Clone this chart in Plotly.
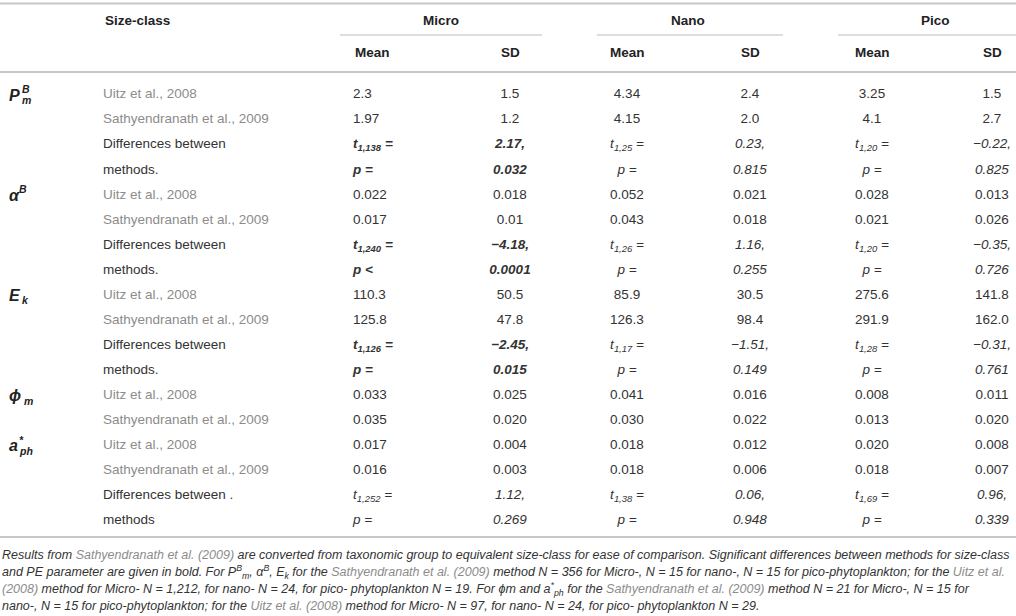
import plotly.graph_objects as go

# table values, row by row (18 body rows)
size_class = ["Uitz et al., 2008", "Sathyendranath et al., 2009", "Differences between", "methods.",
              "Uitz et al., 2008", "Sathyendranath et al., 2009", "Differences between", "methods.",
              "Uitz et al., 2008", "Sathyendranath et al., 2009", "Differences between", "methods.",
              "Uitz et al., 2008", "Sathyendranath et al., 2009",
              "Uitz et al., 2008", "Sathyendranath et al., 2009", "Differences between .", "methods"]
row_type = ["ref", "ref", "t", "p"] * 3 + ["ref", "ref", "ref", "ref", "t", "p"]
significant = [False, False, True, True, False, False, True, True, False, False, True, True,
               False, False, False, False, False, False]

micro_mean = ["2.3", "1.97", "t<sub>1,138</sub> =", "p =", "0.022", "0.017", "t<sub>1,240</sub> =", "p <",
              "110.3", "125.8", "t<sub>1,126</sub> =", "p =", "0.033", "0.035", "0.017", "0.016",
              "t<sub>1,252</sub> =", "p ="]
micro_sd = ["1.5", "1.2", "2.17,", "0.032", "0.018", "0.01", "\u22124.18,", "0.0001", "50.5", "47.8",
            "\u22122.45,", "0.015", "0.025", "0.020", "0.004", "0.003", "1.12,", "0.269"]
nano_mean = ["4.34", "4.15", "t<sub>1,25</sub> =", "p =", "0.052", "0.043", "t<sub>1,26</sub> =", "p =",
             "85.9", "126.3", "t<sub>1,17</sub> =", "p =", "0.041", "0.030", "0.018", "0.018",
             "t<sub>1,38</sub> =", "p ="]
nano_sd = ["2.4", "2.0", "0.23,", "0.815", "0.021", "0.018", "1.16,", "0.255", "30.5", "98.4",
           "\u22121.51,", "0.149", "0.016", "0.022", "0.012", "0.006", "0.06,", "0.948"]
pico_mean = ["3.25", "4.1", "t<sub>1,20</sub> =", "p =", "0.028", "0.021", "t<sub>1,20</sub> =", "p =",
             "275.6", "291.9", "t<sub>1,28</sub> =", "p =", "0.008", "0.013", "0.020", "0.018",
             "t<sub>1,69</sub> =", "p ="]
pico_sd = ["1.5", "2.7", "\u22120.22,", "0.825", "0.013", "0.026", "\u22120.35,", "0.726", "141.8", "162.0",
           "\u22120.31,", "0.761", "0.011", "0.020", "0.008", "0.007", "0.96,", "0.339"]

# parameter labels: (row, main, superscript, subscript)
params = [(0, "P", "B", "m"), (4, "\u03b1", "B", ""), (8, "E", "", "k"),
          (12, "\u03d5", "", "m"), (14, "a", "*", "ph")]

groups = ["Micro", "Nano", "Pico"]

caption = [
    'Results from <span style="color:#8c8c8c">Sathyendranath et al. (2009)</span> are converted from taxonomic group to equivalent size-class for ease of comparison. Significant differences between methods for size-class',
    'and PE parameter are given in bold. For P<sup>B</sup><sub>m</sub>, \u03b1<sup>B</sup>, E<sub>k</sub> for the <span style="color:#8c8c8c">Sathyendranath et al. (2009)</span> method N = 356 for Micro-, N = 15 for nano-, N = 15 for pico-phytoplankton; for the <span style="color:#8c8c8c">Uitz et al.</span>',
    '<span style="color:#8c8c8c">(2008)</span> method for Micro- N = 1,212, for nano- N = 24, for pico- phytoplankton N = 19. For \u03d5m and a<sup>*</sup><sub>ph</sub> for the <span style="color:#8c8c8c">Sathyendranath et al. (2009)</span> method N = 21 for Micro-, N = 15 for',
    'nano-, N = 15 for pico-phytoplankton; for the <span style="color:#8c8c8c">Uitz et al. (2008)</span> method for Micro- N = 97, for nano- N = 24, for pico- phytoplankton N = 29.',
]

W, H = 1016, 616
ROW0, ROWH = 95, 25.05
FONT = "Liberation Sans, Arial, Helvetica, sans-serif"
DARK = "#333333"
GREY = "#8c8c8c"
RULE = "#c8c8c8"


def py(p):
    # pixel row -> y axis units
    return (p - ROW0) / ROWH


def style_value(v, i, col_is_micro):
    if row_type[i] == "ref":
        return v
    if col_is_micro and significant[i]:
        return "<b><i>" + v + "</i></b>"
    return "<i>" + v + "</i>"


rows = list(range(len(size_class)))
fig = go.Figure()

# size-class column
fig.add_trace(go.Scatter(
    x=[103] * len(rows), y=rows, mode="text", text=size_class, textposition="middle right",
    textfont=dict(family=FONT, size=13.5, color=[GREY if t == "ref" else DARK for t in row_type]),
    hoverinfo="skip", cliponaxis=False))

columns = [(micro_mean, 353, "middle right", True), (micro_sd, 510, "middle center", True),
           (nano_mean, 627, "middle center", False), (nano_sd, 750, "middle center", False),
           (pico_mean, 872, "middle center", False), (pico_sd, 992, "middle center", False)]
for vals, x, pos, micro in columns:
    fig.add_trace(go.Scatter(
        x=[x] * len(vals), y=rows, mode="text",
        text=[style_value(v, i, micro) for i, v in enumerate(vals)], textposition=pos,
        textfont=dict(family=FONT, size=13.5, color=DARK),
        hoverinfo="skip", cliponaxis=False))

ann = []
# headers
hdr = dict(font=dict(family=FONT, size=13.5, color="#222222"), showarrow=False, xref="x", yref="y")
ann.append(dict(x=103, y=py(20), text="<b>Size-class</b>", xanchor="left", **hdr))
for g, x in zip(groups, [441, 688, 935]):
    ann.append(dict(x=x, y=py(20), text="<b>" + g + "</b>", xanchor="center", **hdr))
ann.append(dict(x=353, y=py(52), text="<b>Mean</b>", xanchor="left", **hdr))
for x, t in [(510, "SD"), (627, "Mean"), (750, "SD"), (872, "Mean"), (992, "SD")]:
    ann.append(dict(x=x, y=py(52), text="<b>" + t + "</b>", xanchor="center", **hdr))

# parameter labels with stacked super/subscripts
lab = dict(showarrow=False, xref="x", yref="y", xanchor="left")
for r, main, sup, sub in params:
    ann.append(dict(x=7, y=r, text="<b><i>" + main + "</i></b>",
                    font=dict(family=FONT, size=16, color="#222222"), **lab))
    xo = {"P": 20, "E": 20, "\u03d5": 22}.get(main, 17)
    if sup:
        ann.append(dict(x=xo, y=r, yshift=6, text="<b><i>" + sup + "</i></b>",
                        font=dict(family=FONT, size=10.5, color="#222222"), **lab))
    if sub:
        ann.append(dict(x=xo, y=r, yshift=-5, text="<b><i>" + sub + "</i></b>",
                        font=dict(family=FONT, size=10.5, color="#222222"), **lab))

# caption
cap = dict(showarrow=False, xref="x", yref="y", xanchor="left")
for k, line in enumerate(caption):
    ann.append(dict(x=0, y=py(555 + 17 * k), text="<i>" + line + "</i>",
                    font=dict(family=FONT, size=12.5, color=DARK), **cap))

shapes = [dict(type="line", xref="paper", yref="paper", x0=0, x1=1, y0=1 - 3.5 / H, y1=1 - 3.5 / H,
               line=dict(color=RULE, width=2), layer="above")]
for p in (72, 537):
    shapes.append(dict(type="line", xref="x", yref="y", x0=0, x1=W, y0=py(p), y1=py(p),
                       line=dict(color=RULE, width=2), layer="above"))
for x0, x1 in [(340, 542), (597, 783), (838, W)]:
    shapes.append(dict(type="line", xref="x", yref="y", x0=x0, x1=x1, y0=py(35), y1=py(35),
                       line=dict(color="#bbbbbb", width=1)))

fig.update_layout(
    width=W, height=H, margin=dict(l=0, r=0, t=0, b=0),
    paper_bgcolor="white", plot_bgcolor="white", showlegend=False,
    xaxis=dict(range=[0, W], visible=False, fixedrange=True),
    yaxis=dict(range=[py(H), py(0)], visible=False, fixedrange=True),
    annotations=ann, shapes=shapes,
)

# drop the page's default body margin so the figure sits at the window corner
fig.write_html("out.html", config={"displayModeBar": False},
               post_script="document.body.style.margin='0px';document.body.style.overflow='hidden';")
